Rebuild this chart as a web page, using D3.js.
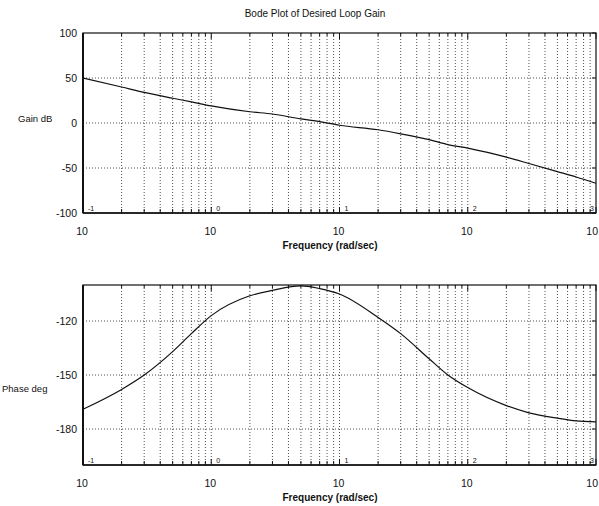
<!DOCTYPE html>
<html>
<head>
<meta charset="utf-8">
<script src="https://cdn.jsdelivr.net/npm/d3@7"></script>
<style>
  body { margin: 0; background: #fff; }
  text { font-family: "Liberation Sans", Arial, sans-serif; fill: #111; }
</style>
</head>
<body>
<svg id="bode" width="599" height="506"></svg>
<script>
// frequencies (rad/sec)
const freq = [0.1, 0.2, 0.3, 0.5, 0.7, 1, 2, 3, 5, 7, 10, 20, 30, 50, 70, 100, 200, 300, 500, 700, 1000];
const gainDb = [50, 40, 34, 27.5, 23.5, 19, 12.5, 10, 4.5, 1.5, -2.5, -7.5, -12, -18.5, -24, -28, -38, -45, -54, -60, -67];
const phaseDeg = [-169, -158, -150, -137, -127, -117, -106, -103, -100.5, -102, -105, -118, -127, -141, -150, -157, -167, -171, -174, -175.5, -176];
const decades = [-1, 0, 1, 2, 3];
const gainTicks = [100, 50, 0, -50, -100];
const phaseTicks = [-120, -150, -180];

const svg = d3.select("#bode");
const left = 83, right = 596;

const x = d3.scaleLog().domain([0.1, 1000]).range([left, right]);

// all grid positions: 1..9 in every decade
const gridFreqs = [];
for (let e = -1; e < 3; e++) {
    for (let m = 1; m < 10; m++) gridFreqs.push(m * Math.pow(10, e));
}
gridFreqs.push(1000);

const isDecade = d => decades.some(e => Math.abs(Math.log10(d) - e) < 1e-9);

svg.append("text")
    .attr("x", 315)
    .attr("y", 17)
    .attr("text-anchor", "middle")
    .style("font-size", "10px")
    .text("Bode Plot of Desired Loop Gain");

function panel(top, bottom, yDomain, ticks, values, yLabel, yLabelPos) {
    const y = d3.scaleLinear().domain(yDomain).range([bottom, top]);
    const g = svg.append("g");

    // dotted grid
    g.selectAll(".vgrid")
        .data(gridFreqs.filter(f => f > 0.1 && f < 1000))
        .join("line")
        .attr("class", "vgrid")
        .attr("x1", d => x(d)).attr("x2", d => x(d))
        .attr("y1", top).attr("y2", bottom)
        .attr("stroke", "#222")
        .attr("stroke-width", 0.8)
        .attr("stroke-dasharray", "1,2");

    g.selectAll(".hgrid")
        .data(ticks.filter(t => y(t) > top + 1 && y(t) < bottom - 1))
        .join("line")
        .attr("class", "hgrid")
        .attr("x1", left).attr("x2", right)
        .attr("y1", d => y(d)).attr("y2", d => y(d))
        .attr("stroke", "#222")
        .attr("stroke-width", 0.8)
        .attr("stroke-dasharray", "1,2");

    // minor ticks inside the frame
    g.selectAll(".btick")
        .data(gridFreqs)
        .join("line")
        .attr("class", "btick")
        .attr("x1", d => x(d)).attr("x2", d => x(d))
        .attr("y1", bottom).attr("y2", d => bottom - (isDecade(d) ? 6 : 4))
        .attr("stroke", "#111");

    g.selectAll(".ttick")
        .data(gridFreqs)
        .join("line")
        .attr("class", "ttick")
        .attr("x1", d => x(d)).attr("x2", d => x(d))
        .attr("y1", top).attr("y2", d => top + (isDecade(d) ? 6 : 3))
        .attr("stroke", "#111");

    // frame
    g.append("rect")
        .attr("x", left).attr("y", top)
        .attr("width", right - left).attr("height", bottom - top)
        .attr("fill", "none")
        .attr("stroke", "#111")
        .attr("stroke-width", 1.2);
    g.append("line")
        .attr("x1", left).attr("x2", left).attr("y1", top).attr("y2", bottom)
        .attr("stroke", "#111").attr("stroke-width", 2);
    g.append("line")
        .attr("x1", left).attr("x2", right).attr("y1", bottom).attr("y2", bottom)
        .attr("stroke", "#111").attr("stroke-width", 1.6);

    // y axis labels
    const yAxis = d3.axisLeft(y).tickValues(ticks).tickSize(0).tickPadding(6)
        .tickFormat(d => String(d));
    g.append("g")
        .attr("transform", `translate(${left},0)`)
        .call(yAxis)
        .call(a => a.select(".domain").remove())
        .selectAll("text")
        .style("font-size", "10.5px")
        .style("font-family", "'Liberation Sans', Arial, sans-serif")
        .attr("fill", "#111");

    g.selectAll(".rtick")
        .data(ticks)
        .join("line")
        .attr("class", "rtick")
        .attr("x1", right).attr("x2", right - 4)
        .attr("y1", d => y(d)).attr("y2", d => y(d))
        .attr("stroke", "#111");

    // x tick labels: 10 with exponent (last one kept inside the page)
    g.selectAll(".xlab")
        .data(decades)
        .join("text")
        .attr("class", "xlab")
        .attr("x", d => d === 3 ? 598 : x(Math.pow(10, d)) - 1)
        .attr("y", bottom + 22)
        .attr("text-anchor", d => d === 3 ? "end" : "middle")
        .style("font-size", "10.5px")
        .text("10");

    g.selectAll(".xexp")
        .data(decades)
        .join("text")
        .attr("class", "xexp")
        .attr("x", d => d === 3 ? right - 6 : x(Math.pow(10, d)) + 5)
        .attr("y", bottom - 2)
        .style("font-size", "7px")
        .text(d => String(d));

    g.append("text")
        .attr("x", 330)
        .attr("y", bottom + 36)
        .attr("text-anchor", "middle")
        .style("font-size", "10px")
        .style("font-weight", "bold")
        .text("Frequency (rad/sec)");

    g.append("text")
        .attr("x", yLabelPos[0])
        .attr("y", yLabelPos[1])
        .style("font-size", "9.5px")
        .text(yLabel);

    // response curve
    const line = d3.line()
        .x((d, i) => x(freq[i]))
        .y(d => y(d))
        .curve(d3.curveMonotoneX);

    g.append("path")
        .datum(values)
        .attr("d", line)
        .attr("fill", "none")
        .attr("stroke", "#111")
        .attr("stroke-width", 1.2);
}

panel(33, 213, [-100, 100], gainTicks, gainDb, "Gain dB", [18, 122]);
panel(285, 465, [-200, -100], phaseTicks, phaseDeg, "Phase deg", [2, 392]);
</script>
</body>
</html>
